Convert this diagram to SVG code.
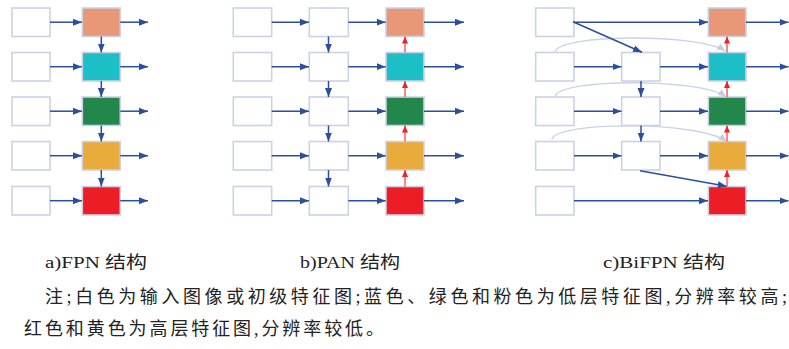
<svg xmlns="http://www.w3.org/2000/svg" width="789" height="349" viewBox="0 0 789 349">
<defs>
<marker id="ab" markerUnits="userSpaceOnUse" markerWidth="10" markerHeight="8" refX="9" refY="4" orient="auto"><path d="M0,0.5 L9,4 L0,7.5 Z" fill="#2b4f9d"/></marker>
<marker id="ar" markerUnits="userSpaceOnUse" markerWidth="8" markerHeight="7" refX="7" refY="3.5" orient="auto"><path d="M0,0.5 L7,3.5 L0,6.5 Z" fill="#ee2228"/></marker>
<marker id="ag" markerUnits="userSpaceOnUse" markerWidth="9" markerHeight="8" refX="8" refY="4" orient="auto"><path d="M0,0.5 L8,4 L0,7.5 Z" fill="#c6cbe2"/></marker>
</defs>
<style>
.bx{stroke:#cdd1e6;stroke-width:1.6}
.w{fill:#ffffff}
.c0{fill:#e89877}.c1{fill:#1dbfc6}.c2{fill:#23874c}.c3{fill:#e9ab3b}.c4{fill:#ec1d25}
.b{stroke:#2b4f9d;stroke-width:1.5;fill:none;marker-end:url(#ab)}
.r{stroke:#f0585c;stroke-width:1.4;fill:none;marker-end:url(#ar)}
.g{stroke:#cdd1e6;stroke-width:1.4;fill:none;marker-end:url(#ag)}
.t{font-family:"Liberation Serif","Noto Sans CJK SC",serif;font-size:17px;fill:#222}
.n{font-size:18px}
</style>
<!-- Panel a -->
<g id="a_in0"><rect class="bx w" x="12" y="8" width="38" height="28.5"/></g>
<g id="a_in1"><rect class="bx w" x="12" y="52.5" width="38" height="28.5"/></g>
<g id="a_in2"><rect class="bx w" x="12" y="97" width="38" height="28.5"/></g>
<g id="a_in3"><rect class="bx w" x="12" y="141.5" width="38" height="28.5"/></g>
<g id="a_in4"><rect class="bx w" x="12" y="186.5" width="38" height="28.5"/></g>
<g id="a_p0"><rect class="bx c0" x="82.3" y="8" width="38" height="28.5"/></g>
<g id="a_p1"><rect class="bx c1" x="82.3" y="52.5" width="38" height="28.5"/></g>
<g id="a_p2"><rect class="bx c2" x="82.3" y="97" width="38" height="28.5"/></g>
<g id="a_p3"><rect class="bx c3" x="82.3" y="141.5" width="38" height="28.5"/></g>
<g id="a_p4"><rect class="bx c4" x="82.3" y="186.5" width="38" height="28.5"/></g>
<!-- Panel b -->
<g id="b_in0"><rect class="bx w" x="233.3" y="8" width="38.4" height="28.5"/></g>
<g id="b_in1"><rect class="bx w" x="233.3" y="52.5" width="38.4" height="28.5"/></g>
<g id="b_in2"><rect class="bx w" x="233.3" y="97" width="38.4" height="28.5"/></g>
<g id="b_in3"><rect class="bx w" x="233.3" y="141.5" width="38.4" height="28.5"/></g>
<g id="b_in4"><rect class="bx w" x="233.3" y="186.5" width="38.4" height="28.5"/></g>
<g id="b_m0"><rect class="bx w" x="309.3" y="8" width="39" height="28.5"/></g>
<g id="b_m1"><rect class="bx w" x="309.3" y="52.5" width="39" height="28.5"/></g>
<g id="b_m2"><rect class="bx w" x="309.3" y="97" width="39" height="28.5"/></g>
<g id="b_m3"><rect class="bx w" x="309.3" y="141.5" width="39" height="28.5"/></g>
<g id="b_m4"><rect class="bx w" x="309.3" y="186.5" width="39" height="28.5"/></g>
<g id="b_p0"><rect class="bx c0" x="386" y="8" width="38" height="28.5"/></g>
<g id="b_p1"><rect class="bx c1" x="386" y="52.5" width="38" height="28.5"/></g>
<g id="b_p2"><rect class="bx c2" x="386" y="97" width="38" height="28.5"/></g>
<g id="b_p3"><rect class="bx c3" x="386" y="141.5" width="38" height="28.5"/></g>
<g id="b_p4"><rect class="bx c4" x="386" y="186.5" width="38" height="28.5"/></g>
<!-- Panel c -->
<g id="c_in0"><rect class="bx w" x="535.7" y="8" width="38.3" height="28.5"/></g>
<g id="c_in1"><rect class="bx w" x="535.7" y="52.5" width="38.3" height="28.5"/></g>
<g id="c_in2"><rect class="bx w" x="535.7" y="97" width="38.3" height="28.5"/></g>
<g id="c_in3"><rect class="bx w" x="535.7" y="141.5" width="38.3" height="28.5"/></g>
<g id="c_in4"><rect class="bx w" x="535.7" y="186.5" width="38.3" height="28.5"/></g>
<g id="c_m1"><rect class="bx w" x="621.7" y="52.5" width="38.3" height="28.5"/></g>
<g id="c_m2"><rect class="bx w" x="621.7" y="97" width="38.3" height="28.5"/></g>
<g id="c_m3"><rect class="bx w" x="621.7" y="141.5" width="38.3" height="28.5"/></g>
<g id="c_p0"><rect class="bx c0" x="708.3" y="8" width="37.7" height="28.5"/></g>
<g id="c_p1"><rect class="bx c1" x="708.3" y="52.5" width="37.7" height="28.5"/></g>
<g id="c_p2"><rect class="bx c2" x="708.3" y="97" width="37.7" height="28.5"/></g>
<g id="c_p3"><rect class="bx c3" x="708.3" y="141.5" width="37.7" height="28.5"/></g>
<g id="c_p4"><rect class="bx c4" x="708.3" y="186.5" width="37.7" height="28.5"/></g>
<g id="connectors">
<!-- a -->
<path class="b" d="M50,22.2H82"/><path class="b" d="M50,66.7H82"/><path class="b" d="M50,111.2H82"/><path class="b" d="M50,155.7H82"/><path class="b" d="M50,200.7H82"/>
<path class="b" d="M120.3,22.2H148"/><path class="b" d="M120.3,66.7H148"/><path class="b" d="M120.3,111.2H148"/><path class="b" d="M120.3,155.7H148"/><path class="b" d="M120.3,200.7H148"/>
<path class="b" d="M101.3,36.5V52.5"/><path class="b" d="M101.3,81V97"/><path class="b" d="M101.3,125.5V141.5"/><path class="b" d="M101.3,170V186.5"/>
<!-- b -->
<path class="b" d="M271.7,22.2H309"/><path class="b" d="M271.7,66.7H309"/><path class="b" d="M271.7,111.2H309"/><path class="b" d="M271.7,155.7H309"/><path class="b" d="M271.7,200.7H309"/>
<path class="b" d="M348.3,22.2H385.7"/><path class="b" d="M348.3,66.7H385.7"/><path class="b" d="M348.3,111.2H385.7"/><path class="b" d="M348.3,155.7H385.7"/><path class="b" d="M348.3,200.7H385.7"/>
<path class="b" d="M424,22.2H464"/><path class="b" d="M424,66.7H464"/><path class="b" d="M424,111.2H464"/><path class="b" d="M424,155.7H464"/><path class="b" d="M424,200.7H464"/>
<path class="b" d="M328.5,36.5V52.5"/><path class="b" d="M328.5,81V97"/><path class="b" d="M328.5,125.5V141.5"/><path class="b" d="M328.5,170V186.5"/>
<path class="r" d="M405,52.5V36.5"/><path class="r" d="M405,97V81"/><path class="r" d="M405,141.5V125.5"/><path class="r" d="M405,186.5V170"/>
<!-- c -->
<path class="g" d="M555,52 C559,33.5 700,33.5 725,51"/>
<path class="g" d="M555,96.7 C559,78 700,78 726,96.7"/>
<path class="g" d="M551.7,139.5 C556,121 700,121 726.7,141.5"/>
<path class="b" d="M574,22.2H708"/><path class="b" d="M574,200.7H708"/>
<path class="b" d="M574,66.7H621.5"/><path class="b" d="M574,111.2H621.5"/><path class="b" d="M574,155.7H621.5"/>
<path class="b" d="M660,66.7H708"/><path class="b" d="M660,111.2H708"/><path class="b" d="M660,155.7H708"/>
<path class="b" d="M746,22.2H788.5"/><path class="b" d="M746,66.7H788.5"/><path class="b" d="M746,111.2H788.5"/><path class="b" d="M746,155.7H788.5"/><path class="b" d="M746,200.7H788.5"/>
<path class="b" d="M573,21.7L642,52.3"/>
<path class="b" d="M640,170.7L726.7,186.3"/>
<path class="b" d="M641,81V97"/><path class="b" d="M641,125.5V141.5"/>
<path class="r" d="M727,52.5V36.5"/><path class="r" d="M727,97V81"/><path class="r" d="M727,141.5V125.5"/><path class="r" d="M727,186.5V170"/>
</g>
<g id="captions">
<text class="t" x="45" y="268" textLength="102" lengthAdjust="spacingAndGlyphs">a)FPN 结构</text>
<text class="t" x="300" y="268" textLength="100" lengthAdjust="spacingAndGlyphs">b)PAN 结构</text>
<text class="t" x="603" y="268" textLength="122" lengthAdjust="spacingAndGlyphs">c)BiFPN 结构</text>
<text class="t n" x="45" y="303" textLength="742" lengthAdjust="spacing">注;白色为输入图像或初级特征图;蓝色、绿色和粉色为低层特征图,分辨率较高;</text>
<text class="t n" x="24" y="335" textLength="360" lengthAdjust="spacing">红色和黄色为高层特征图,分辨率较低。</text>
</g>
</svg>
